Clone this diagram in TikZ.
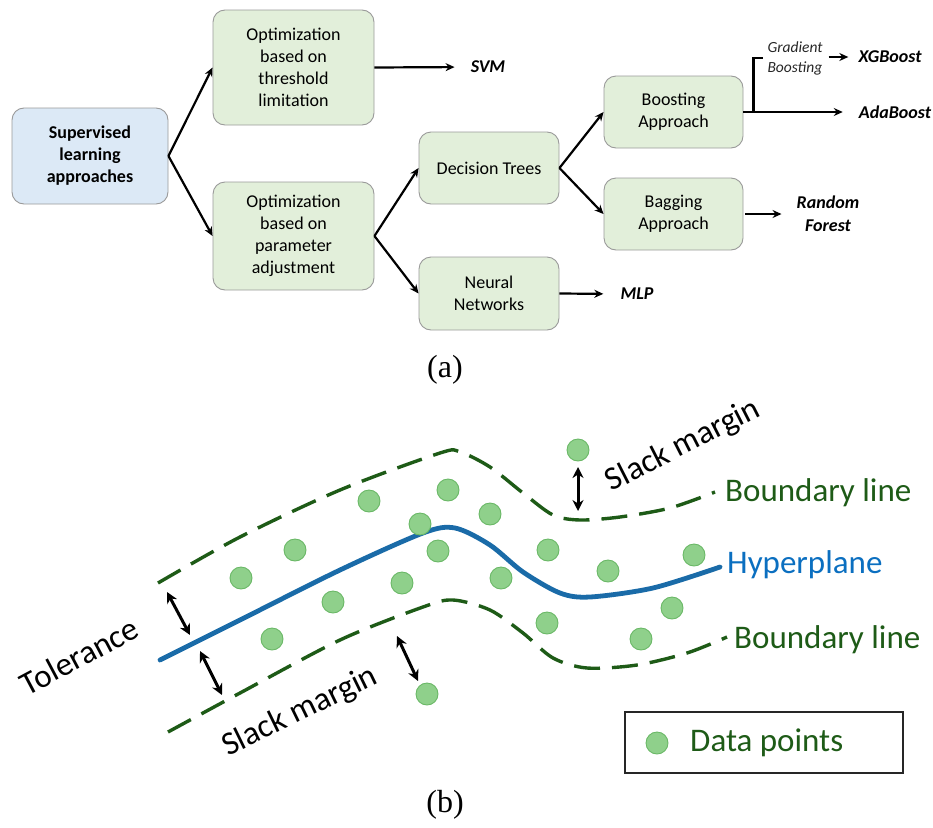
\documentclass[tikz,border=0pt]{standalone}
\usepackage{fontspec}
\setmainfont{Carlito}
\newfontfamily\capfont{Liberation Serif}
\usetikzlibrary{arrows.meta}
\definecolor{boxgreen}{HTML}{E2EFDA}
\definecolor{boxblue}{HTML}{DCE9F6}
\definecolor{boxedge}{HTML}{9A9A9A}
\definecolor{bgreen}{HTML}{1E5B17}
\definecolor{hblue}{HTML}{1A6BA8}
\definecolor{htext}{HTML}{0B6FC0}
\definecolor{dotfill}{HTML}{8FD08B}
\definecolor{dotedge}{HTML}{6AB866}
\begin{document}
\begin{tikzpicture}[x=1pt,y=-1pt,
  box/.style={draw=boxedge, line width=0.9pt, fill=boxgreen, rounded corners=12pt,
    align=center, inner sep=0pt, font=\fontsize{18}{22}\selectfont},
  flow/.style={-{Stealth[length=9pt,width=8pt]}, line width=2.2pt},
  lbl/.style={font=\fontsize{18}{23}\selectfont\bfseries\itshape, align=center, inner sep=0pt},
  bound/.style={draw=bgreen, line width=3.4pt, dash pattern=on 26pt off 12pt},
  hyper/.style={draw=hblue, line width=4.8pt, line cap=round},
  gap/.style={{Stealth[length=11pt,width=11pt]}-{Stealth[length=11pt,width=11pt]}, line width=3pt},
  dot/.style={circle, fill=dotfill, draw=dotedge, line width=0.9pt, minimum size=22pt, inner sep=0pt},
  big/.style={font=\fontsize{33}{36}\selectfont, inner sep=0pt},
  captext/.style={font=\capfont\fontsize{32}{34}\selectfont, inner sep=0pt}]
\useasboundingbox (0,0) rectangle (933,827);

% ---------- (a) taxonomy of supervised approaches ----------
\node[box, fill=boxblue, minimum width=156pt, minimum height=96pt, font=\fontsize{18}{22}\selectfont\bfseries]
  (sup) at (90,156) {Supervised\\learning\\approaches};
\node[box, minimum width=161pt, minimum height=115pt] (thr) at (293.5,67.5)
  {Optimization\\based on\\threshold\\limitation};
\node[box, minimum width=161pt, minimum height=108pt] (par) at (293.5,236)
  {Optimization\\based on\\parameter\\adjustment};
\node[box, minimum width=140pt, minimum height=72pt] (dt) at (489,168) {Decision Trees};
\node[box, minimum width=140pt, minimum height=73pt] (nn) at (489,293.5) {Neural\\Networks};
\node[box, minimum width=139pt, minimum height=72pt] (boost) at (673.5,112) {Boosting\\Approach};
\node[box, minimum width=139pt, minimum height=72pt] (bag) at (673.5,214) {Bagging\\Approach};

\node[lbl] (svm) at (488,67) {SVM};
\node[lbl] (mlp) at (637,294) {MLP};
\node[lbl] (rf) at (828,214) {Random\\Forest};
\node[lbl] (ada) at (895,112) {AdaBoost};
\node[lbl] (xgb) at (890,57) {XGBoost};
\node[font=\fontsize{15.5}{20}\selectfont\itshape, align=left, inner sep=0pt, text=black!85]
  (gb) at (795,58) {Gradient\\Boosting};

\draw[flow] (sup.east) -- (thr.west);
\draw[flow] (sup.east) -- (par.west);
\draw[flow] (par.east) -- (dt.west);
\draw[flow] (par.east) -- (nn.west);
\draw[flow] (dt.east) -- (boost.west);
\draw[flow] (dt.east) -- (bag.west);
\draw[flow, shorten >=16pt] (thr.east) -- (svm.west);
\draw[flow, shorten >=17pt] (nn.east) -- (mlp.west);
\draw[flow, shorten <=2pt, shorten >=15pt] (bag.east) -- (bag.east -| rf.west);
\draw[flow, shorten >=16pt] (boost.east) -- (ada.west);
\coordinate (split) at ([xshift=10pt]boost.east);
\draw[line width=2.2pt] (split) -- (split |- gb.west) -- ([xshift=-4pt]gb.west);
\draw[flow, shorten <=6pt, shorten >=10pt] (gb.east |- xgb.west) -- (xgb.west);

\node[captext] (capa) at (445,370) {(a)};

% ---------- (b) soft-margin hyperplane ----------
\draw[bound] plot[smooth] coordinates {(158,583) (240,537) (340,490) (440,453) (460,452)
  (490,467) (523,493) (553,515) (580,520) (620,517) (670,508) (715,492)};
\draw[bound] plot[smooth] coordinates {(168,732) (240,693) (340,640) (423,607) (453,600)
  (490,610) (523,633) (553,658) (587,668) (637,665) (687,653) (727,637)};
\draw[hyper] plot[smooth] coordinates {(160,660) (240,620) (340,570) (423,533) (455,528)
  (490,545) (523,572) (560,593) (590,597) (653,588) (720,567)};

\foreach \p/\q in {578/450, 369/501, 448/490, 420/524, 490/514, 295/550, 438/551,
  548/550, 241/578, 402/583, 501/578, 608/571, 694/555, 333/602, 672/608, 272/639,
  547/623, 641/639, 427/694}
  \node[dot] at (\p,\q) {};

\coordinate (t1a) at (167,592); \coordinate (t1b) at (190,635);
\coordinate (t2a) at (200,651); \coordinate (t2b) at (222,695);
\coordinate (s1a) at (397,636); \coordinate (s1b) at (418,681);
\coordinate (s2a) at (578,467); \coordinate (s2b) at (578,511);
\draw[gap] (t1a) -- (t1b);
\draw[gap] (t2a) -- (t2b);
\draw[gap] (s1a) -- (s1b);
\draw[gap] (s2a) -- (s2b);

\node[big, rotate=28] (tol) at (79,656) {Tolerance};
\node[big, rotate=26] (slk1) at (300,712) {Slack margin};
\node[big, rotate=27] (slk2) at (683,446) {Slack margin};
\node[big, text=bgreen, anchor=west] (bl1) at (725,493) {Boundary line};
\node[big, text=htext, anchor=west] (hp) at (727,565) {Hyperplane};
\node[big, text=bgreen, anchor=west] (bl2) at (734,640) {Boundary line};

\node[draw=black!85, line width=1.2pt, minimum width=278pt, minimum height=61pt, inner sep=0pt]
  (legend) at (764,742.5) {};
\node[dot] (ldot) at (657,743) {};
\node[big, text=bgreen, anchor=west] (ltext) at (690,743) {Data points};

\node[captext] (capb) at (445,805) {(b)};
\end{tikzpicture}
\end{document}
